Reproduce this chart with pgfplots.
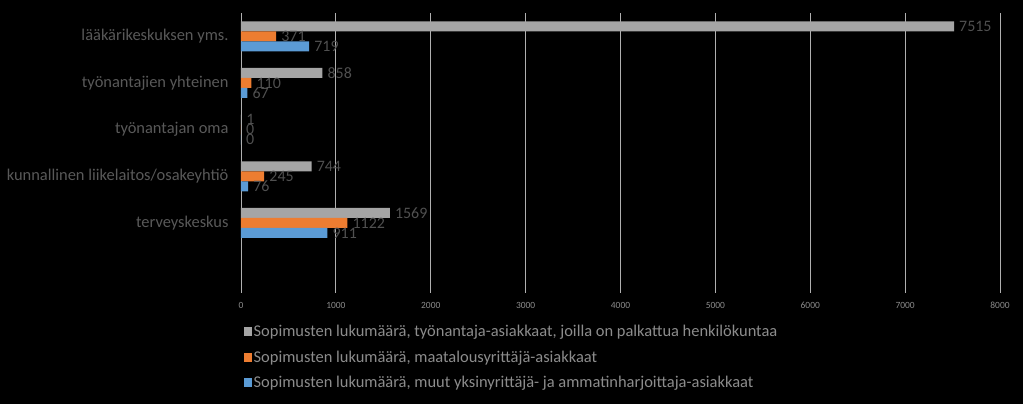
\documentclass[border=0pt]{standalone}
\usepackage{pgfplots}
\pgfplotsset{compat=1.18}
\usepackage{fontspec}
\setmainfont{Carlito}
\usetikzlibrary{backgrounds}

\definecolor{sergray}{HTML}{A5A5A5}
\definecolor{serorange}{HTML}{ED7D31}
\definecolor{serblue}{HTML}{5B9BD5}
\definecolor{labgray}{HTML}{595959}
\definecolor{numgray}{HTML}{505050}
\definecolor{leggray}{HTML}{8C8C8C}
\definecolor{gridgray}{HTML}{B0B0B0}

\begin{document}
\begin{tikzpicture}[x=1bp,y=1bp]
\begin{axis}[
  name=ax,
  scale only axis,
  width=759bp, height=280bp,
  xmin=0, xmax=8000,
  ymin=-0.5, ymax=5.5,
  xbar, bar width=10bp,
  axis line style={draw=none},
  major tick length=0pt,
  xtick={0,1000,...,8000},
  ytick={1,2,3,4,5},
  yticklabels={terveyskeskus, kunnallinen liikelaitos/osakeyhtiö, työnantajan oma, työnantajien yhteinen, lääkärikeskuksen yms.},
  xmajorgrids,
  grid style={gridgray, line width=0.8bp},
  /pgf/number format/assume math mode=true,
  /pgf/number format/1000 sep={},
  xticklabel style={font=\fontsize{9.5}{10}\selectfont, text=leggray, yshift=-6bp},
  yticklabel style={font=\fontsize{16.5}{18}\selectfont, text=labgray, xshift=-9bp},
  nodes near coords,
  every node near coord/.append style={font=\fontsize{16}{18}\selectfont, text=numgray, anchor=west, inner sep=2bp, xshift=3bp},
  clip=false,
  legend style={at={(rel axis cs:0,0)}, anchor=north west, yshift=-28bp, xshift=0bp,
    draw=none, fill=none, text=leggray, font=\fontsize{16.5}{18}\selectfont,
    row sep=10bp, nodes={inner sep=1.5bp}},
  legend cell align=left,
  legend image code/.code={\fill (0bp,-4.5bp) rectangle (8bp,4.5bp);},
]
\coordinate (bl) at (rel axis cs:-241/759,-111/280);
\coordinate (tr) at (rel axis cs:1+23/759,1+13/280);
\addplot[fill=sergray, draw=none, bar shift=10bp] coordinates {(7515,5) (858,4) (1,3) (744,2) (1569,1)};
\addplot[fill=serorange, draw=none, bar shift=0bp] coordinates {(371,5) (110,4) (0,3) (245,2) (1122,1)};
\addplot[fill=serblue, draw=none, bar shift=-10bp] coordinates {(719,5) (67,4) (0,3) (76,2) (911,1)};
\legend{Sopimusten lukumäärä{,} työnantaja-asiakkaat{,} joilla on palkattua henkilökuntaa,
        Sopimusten lukumäärä{,} maatalousyrittäjä-asiakkaat,
        Sopimusten lukumäärä{,} muut yksinyrittäjä- ja ammatinharjoittaja-asiakkaat}
\end{axis}
\begin{scope}[on background layer]
\fill[black] (bl) rectangle (tr);
\end{scope}
\pgfresetboundingbox
\useasboundingbox (bl) rectangle (tr);
\end{tikzpicture}
\end{document}
